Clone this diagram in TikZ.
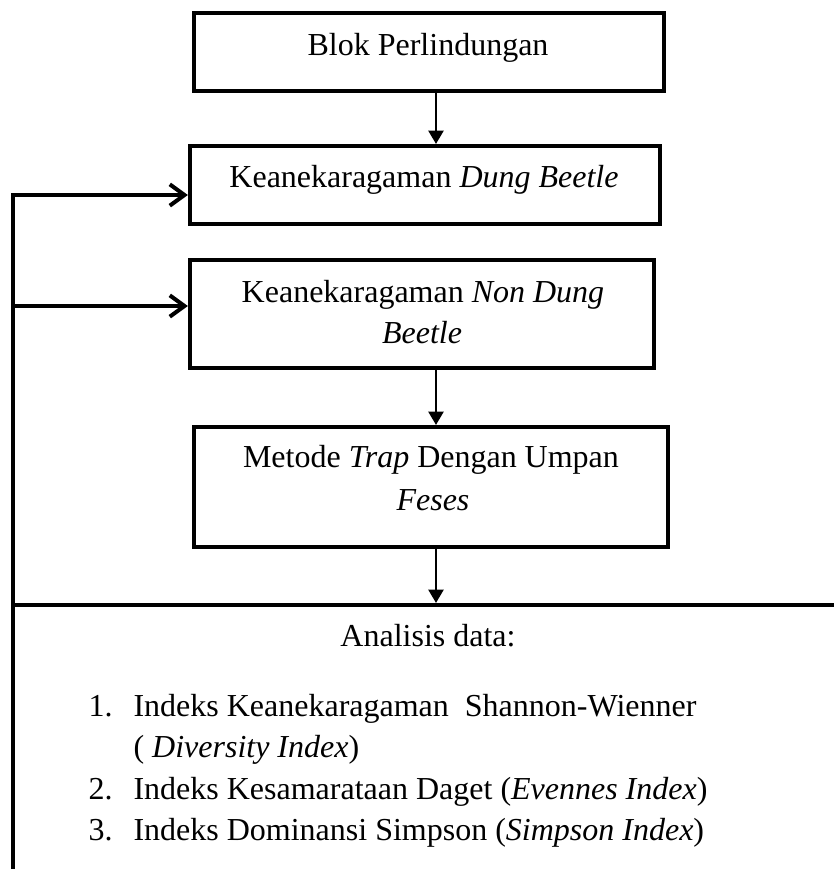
\documentclass[tikz,border=0pt]{standalone}
\usepackage{fontspec}
\setmainfont{Liberation Serif}
\usetikzlibrary{arrows.meta}
\begin{document}
\begin{tikzpicture}[x=0.375pt,y=-0.375pt,
  font=\fontsize{12pt}{16pt}\selectfont,
  boxnode/.style={draw,line width=1.6pt,inner sep=0pt},
  txt/.style={inner sep=0pt,anchor=base},
  txtl/.style={inner sep=0pt,anchor=base west},
  downarrow/.style={draw,line width=0.5pt,-{Triangle[length=5pt,width=5.8pt]}},
  fbline/.style={draw,line width=1.5pt,line cap=rect},
  fbarrow/.style={draw,line width=1.5pt,-{Straight Barb[length=5.5pt,width=8pt,line width=1.5pt]}}]
\clip (0,0) rectangle (834,869);
% boxes
\node[boxnode,minimum width=176.25pt,minimum height=29.25pt] (b1) at (429,52) {};
\node[boxnode,minimum width=176.25pt,minimum height=29.25pt] (b2) at (425,185) {};
\node[boxnode,minimum width=174pt,minimum height=40.5pt] (b3) at (422,314) {};
\node[boxnode,minimum width=177.75pt,minimum height=45pt] (b4) at (431,487) {};
\node[boxnode,minimum width=370.125pt,minimum height=148.125pt] (ana) at (506.5,802.5) {};
% texts
\node[txt] (t1) at (428,55) {Blok Perlindungan};
\node[txt] (t2) at (424,187) {Keanekaragaman \textit{Dung Beetle}};
\node[txt] (t3a) at (423,302) {Keanekaragaman \textit{Non Dung}};
\node[txt] (t3b) at (422,343) {\textit{Beetle}};
\node[txt] (t4a) at (431,467) {Metode \textit{Trap} Dengan Umpan};
\node[txt] (t4b) at (433,510) {\textit{Feses}};
\node[txt] (t5) at (428,646) {Analisis data:};
\node[txtl] (n1) at (88,716) {1.};
\node[txtl] (l1) at (133,716) {Indeks Keanekaragaman~ Shannon-Wienner};
\node[txtl] (l1b) at (133,757) {( \textit{Diversity Index})};
\node[txtl] (n2) at (88,799) {2.};
\node[txtl] (l2) at (133,799) {Indeks Kesamarataan Daget (\textit{Evennes Index})};
\node[txtl] (n3) at (88,840) {3.};
\node[txtl] (l3) at (133,840) {Indeks Dominansi Simpson (\textit{Simpson Index})};
% connectors
\coordinate (ax) at (436,0);
\coordinate (corner) at ([xshift=0.8pt,yshift=-0.8pt]ana.north west);
\coordinate (e2) at ([yshift=-3.75pt]b2.west);
\coordinate (e3) at ([yshift=3pt]b3.west);
\draw[downarrow] (b1.south -| ax) -- (b2.north -| ax);
\draw[downarrow] (b3.south -| ax) -- (b4.north -| ax);
\draw[downarrow] (b4.south -| ax) -- (ana.north -| ax);
\draw[fbline] (corner) -- (corner |- e2);
\draw[fbarrow] (corner |- e2) -- (e2);
\draw[fbarrow] (corner |- e3) -- (e3);
\end{tikzpicture}
\end{document}
